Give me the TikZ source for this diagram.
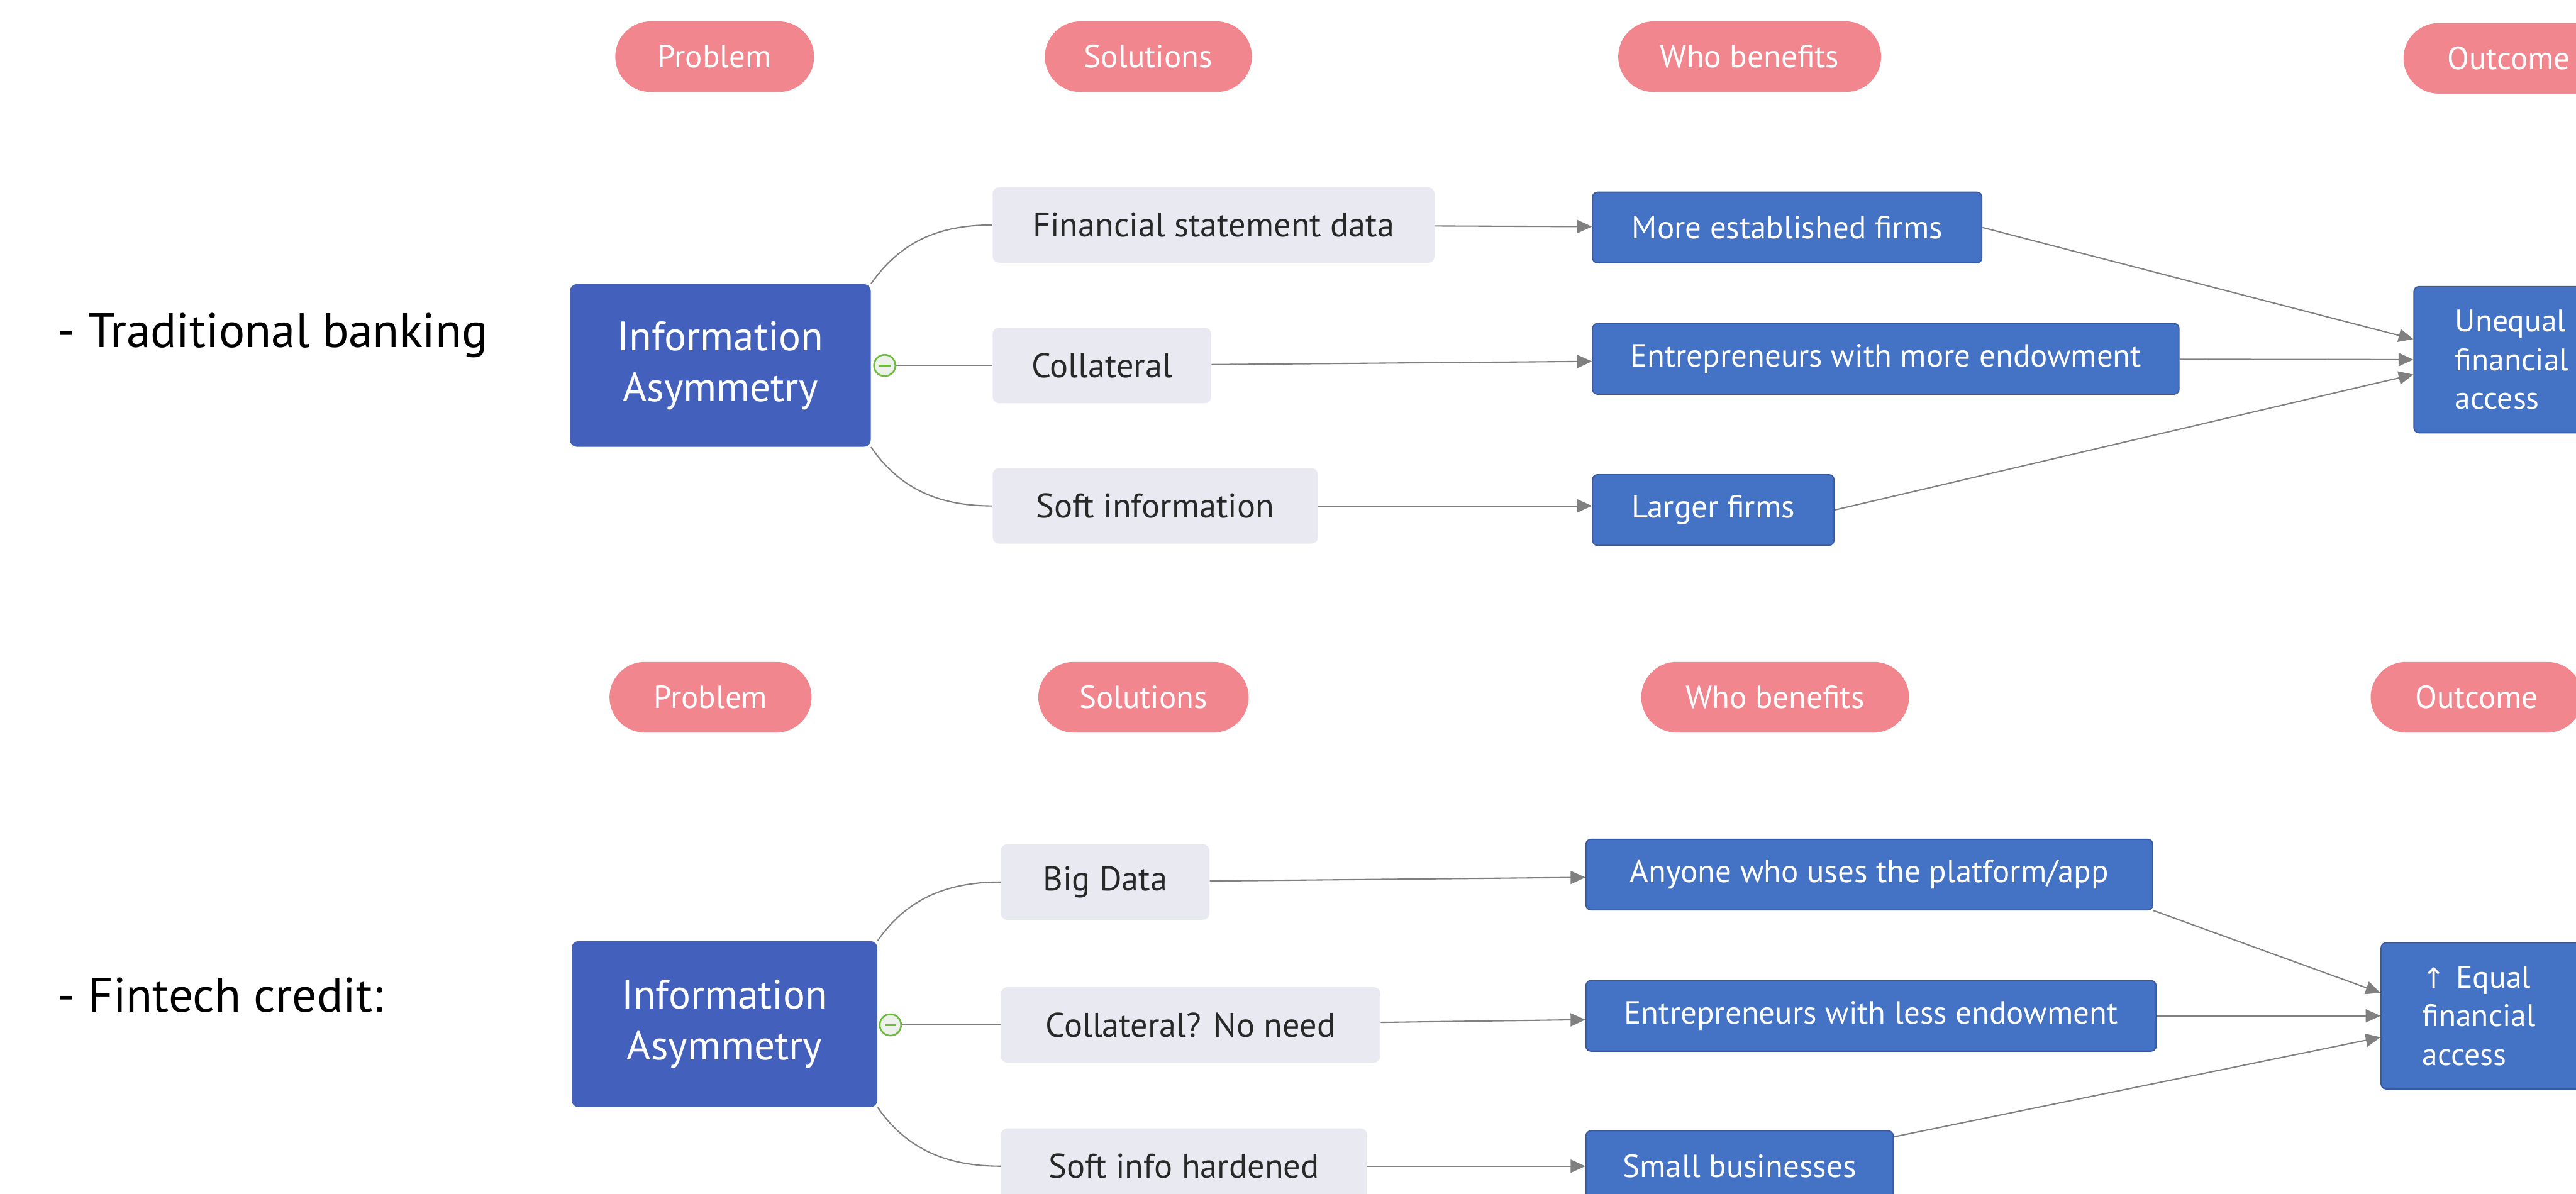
\documentclass[tikz,border=0pt]{standalone}
\usepackage{fontspec}
\setmainfont{PT Sans}
\newfontfamily\arrowfont{DejaVu Sans}
\usetikzlibrary{arrows.meta,positioning}
\definecolor{pillpink}{RGB}{242,134,143}
\definecolor{probblue}{RGB}{67,96,188}
\definecolor{benblue}{RGB}{68,114,196}
\definecolor{benedge}{RGB}{58,88,158}
\definecolor{solgray}{RGB}{232,233,241}
\definecolor{soltext}{RGB}{40,40,40}
\definecolor{linegray}{RGB}{128,128,128}
\definecolor{togglegreen}{RGB}{108,186,62}
\definecolor{togglefill}{RGB}{236,242,233}

\begin{document}
\begin{tikzpicture}[x=1pt, y=-1pt,
    every node/.style={inner sep=0pt},
    side/.style={anchor=west, font=\fontsize{29.5}{34}\selectfont},
    pill/.style={fill=pillpink, text=white, rounded corners=21.5pt, minimum height=43pt, font=\fontsize{19.5}{22}\selectfont},
    probbox/.style={fill=probblue, text=white, rounded corners=4pt, align=center, font=\fontsize{25}{31}\selectfont},
    solbox/.style={fill=solgray, text=soltext, rounded corners=4pt, anchor=west, minimum height=46pt, font=\fontsize{20.8}{24}\selectfont},
    benbox/.style={fill=benblue, draw=benedge, line width=0.7pt, text=white, rounded corners=3pt, anchor=west, minimum height=43pt, font=\fontsize{19.5}{23}\selectfont},
    outbox/.style={benbox, minimum height=89pt, inner xsep=25pt, text width=80pt, align=left, font=\fontsize{19}{23.6}\selectfont},
    toggle/.style={circle, draw=togglegreen, fill=togglefill, line width=1pt, minimum size=13pt},
    branch/.style={draw=linegray, line width=0.8pt},
    arr/.style={branch, -{Triangle[length=9pt,width=8pt]}}]

    \useasboundingbox (0,0) rectangle (1568,726.7);
    \clip (0,0) rectangle (1568,726.7);

    % ================= top: traditional banking =================
    \begin{scope}
        % side label and column heads
        \node[side] (lab1) at (35,204) {- Traditional banking};
        \node[pill, minimum width=121pt] (hdprob1) at (435,34.5) {Problem};
        \node[pill, minimum width=126pt] (hdsol1) at (699,34.5) {Solutions};
        \node[pill, minimum width=160pt] (hdwho1) at (1065,34.5) {Who benefits};
        \node[pill, minimum width=128pt] (hdout1) at (1527,35.5) {Outcome};

        % problem and toggle
        \node[probbox, minimum width=183pt, minimum height=99pt] (prob1) at (438.5,222.5) {Information\\Asymmetry};
        \node[toggle] (tog1) at (538.5,222.5) {};
        \draw[togglegreen, line width=1.2pt] ([xshift=-3.5pt]tog1.center) -- ([xshift=3.5pt]tog1.center);

        % solutions
        \node[solbox, minimum width=269pt] (sol1a) at (604,137) {Financial statement data};
        \node[solbox, minimum width=133pt] (sol1b) at (604,222.5) {Collateral};
        \node[solbox, minimum width=198pt] (sol1c) at (604,308) {Soft information};

        % who benefits
        \node[benbox, minimum width=237pt] (ben1a) at (969,138.5) {More established firms};
        \node[benbox, minimum width=357pt] (ben1b) at (969,218.5) {Entrepreneurs with more endowment};
        \node[benbox, minimum width=147pt] (ben1c) at (969,310.5) {Larger firms};

        % outcome
        \node[outbox] (out1) at (1469,219) {Unequal\\financial\\access};

        % branches
        \draw[branch] (prob1.north east) .. controls +(18,-26) and +(-32,0) .. (sol1a.west);
        \draw[branch] (tog1) -- (sol1b);
        \draw[branch] (prob1.south east) .. controls +(18,26) and +(-32,0) .. (sol1c.west);

        % arrows
        \draw[arr] (sol1a) -- (ben1a);
        \draw[arr] (sol1b) -- (ben1b);
        \draw[arr] (sol1c.east) -- (sol1c.east -| ben1c.west);
        \draw[arr] (ben1a.east) -- ([yshift=12.5pt]out1.west);
        \draw[arr] (ben1b) -- (out1);
        \draw[arr] (ben1c.east) -- ([yshift=-9pt]out1.west);
    \end{scope}

    % ================= bottom: fintech credit =================
    \begin{scope}
        % side label and column heads
        \node[side] (lab2) at (35,606) {- Fintech credit:};
        \node[pill, minimum width=123pt] (hdprob2) at (432.5,424.5) {Problem};
        \node[pill, minimum width=128pt] (hdsol2) at (696,424.5) {Solutions};
        \node[pill, minimum width=163pt] (hdwho2) at (1080.5,424.5) {Who benefits};
        \node[pill, minimum width=129pt] (hdout2) at (1507.5,424.5) {Outcome};

        % problem and toggle
        \node[probbox, minimum width=186pt, minimum height=101pt] (prob2) at (441,623.5) {Information\\Asymmetry};
        \node[toggle] (tog2) at (542,624) {};
        \draw[togglegreen, line width=1.2pt] ([xshift=-3.5pt]tog2.center) -- ([xshift=3.5pt]tog2.center);

        % solutions
        \node[solbox, minimum width=127pt] (sol2a) at (609,537) {Big Data};
        \node[solbox, minimum width=231pt] (sol2b) at (609,624) {Collateral? No need};
        \node[solbox, minimum width=223pt] (sol2c) at (609,710) {Soft info hardened};

        % who benefits
        \node[benbox, minimum width=345pt] (ben2a) at (965,532.5) {Anyone who uses the platform/app};
        \node[benbox, minimum width=347pt] (ben2b) at (965,618.5) {Entrepreneurs with less endowment};
        \node[benbox, minimum width=187pt] (ben2c) at (965,710) {Small businesses};

        % outcome
        \node[outbox] (out2) at (1449,618.5) {{\arrowfont\fontsize{17}{23.6}\selectfont ↑} Equal\\financial\\access};

        % branches
        \draw[branch] (prob2.north east) .. controls +(18,-26) and +(-32,0) .. (sol2a.west);
        \draw[branch] (tog2) -- (sol2b);
        \draw[branch] (prob2.south east) .. controls +(18,26) and +(-32,0) .. (sol2c.west);

        % arrows
        \draw[arr] (sol2a) -- (ben2a);
        \draw[arr] (sol2b) -- (ben2b);
        \draw[arr] (sol2c) -- (ben2c);
        \draw[arr] (ben2a.south east) -- ([yshift=14pt]out2.west);
        \draw[arr] (ben2b) -- (out2);
        \draw[arr] ([yshift=-4pt]ben2c.north east) -- ([yshift=-13pt]out2.west);
    \end{scope}

\end{tikzpicture}
\end{document}
